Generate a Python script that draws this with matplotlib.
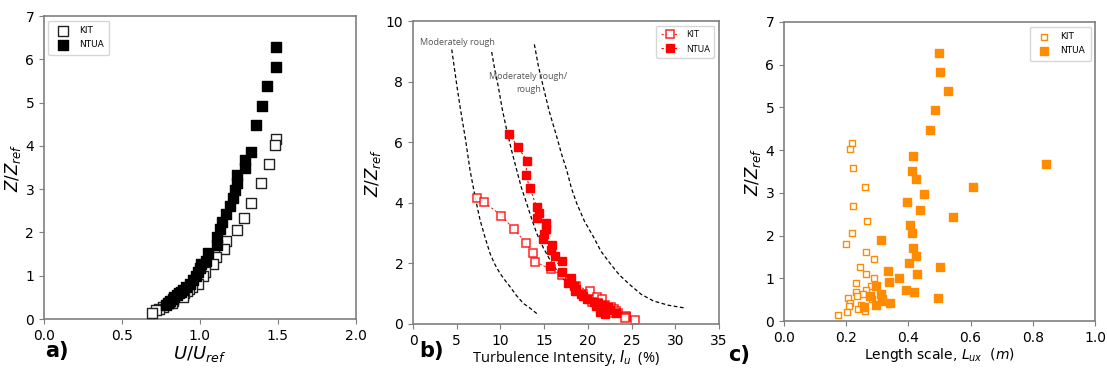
import matplotlib
matplotlib.use("Agg")
import matplotlib.pyplot as plt

# ---------------- data ----------------
z_kit = [4.17, 4.03, 3.58, 3.14, 2.69, 2.33, 2.06, 1.80, 1.62, 1.44, 1.26, 1.09, 1.00, 0.90,
         0.82, 0.73, 0.69, 0.64, 0.59, 0.55, 0.51, 0.42, 0.37, 0.36, 0.27, 0.23, 0.20, 0.14]
u_kit = [1.49, 1.48, 1.44, 1.39, 1.33, 1.28, 1.24, 1.17, 1.155, 1.10, 1.085, 1.035, 1.02, 0.96,
         0.99, 0.95, 0.93, 0.92, 0.90, 0.89, 0.89, 0.83, 0.82, 0.80, 0.765, 0.74, 0.72, 0.695]
iu_kit = [7.3, 8.1, 10.1, 11.5, 12.9, 13.7, 13.95, 15.8, 17.0, 18.0, 18.7, 20.2, 19.5, 21.0,
          21.6, 20.5, 21.2, 22.0, 21.8, 22.6, 23.0, 23.2, 22.5, 23.4, 24.4, 24.4, 24.3, 25.4]
lux_kit = [0.219, 0.212, 0.222, 0.262, 0.222, 0.267, 0.220, 0.198, 0.265, 0.289, 0.245, 0.264,
           0.288, 0.231, 0.279, 0.263, 0.231, 0.253, 0.234, 0.206, 0.284, 0.212, 0.249, 0.208,
           0.239, 0.262, 0.204, 0.173]

z_ntua = [6.28, 5.83, 5.38, 4.93, 4.48, 3.86, 3.68, 3.50, 3.32, 3.14, 2.97, 2.79, 2.61, 2.43,
          2.24, 2.07, 1.90, 1.71, 1.53, 1.35, 1.26, 1.17, 1.09, 1.00, 0.91, 0.81, 0.73, 0.68,
          0.63, 0.59, 0.55, 0.51, 0.46, 0.41, 0.37, 0.32]
u_ntua = [1.487, 1.487, 1.431, 1.40, 1.358, 1.325, 1.29, 1.29, 1.24, 1.235, 1.225, 1.21, 1.19,
          1.165, 1.14, 1.13, 1.11, 1.11, 1.05, 1.04, 1.005, 1.0, 0.99, 0.978, 0.956, 0.935,
          0.913, 0.89, 0.88, 0.864, 0.85, 0.836, 0.828, 0.81, 0.796, 0.785]
iu_ntua = [10.98, 12.0, 13.08, 12.89, 13.38, 14.14, 14.45, 14.18, 15.21, 15.21, 14.95, 14.9,
           15.9, 15.75, 16.2, 17.08, 15.7, 17.08, 18.03, 17.73, 18.4, 18.6, 18.5, 19.18, 19.5,
           19.9, 20.7, 21.2, 21.6, 20.97, 22.26, 21.8, 22.57, 21.4, 23.18, 22.0]
lux_ntua = [0.499, 0.500, 0.526, 0.484, 0.469, 0.416, 0.843, 0.411, 0.425, 0.607, 0.449, 0.394,
            0.438, 0.544, 0.405, 0.412, 0.312, 0.416, 0.423, 0.401, 0.501, 0.334, 0.429, 0.370,
            0.337, 0.295, 0.391, 0.419, 0.312, 0.275, 0.494, 0.315, 0.315, 0.342, 0.297, 0.258]

# reference turbulence-intensity curves (panel b)
ref1_iu = [4.43, 5.0, 5.38, 6.0, 6.52, 7.1, 7.67, 8.3, 8.81, 9.3, 9.95, 10.5, 11.1, 11.8, 12.62, 13.4, 14.22]
ref1_z = [9.06, 7.9, 7.17, 6.1, 5.08, 4.2, 3.43, 2.8, 2.33, 2.0, 1.67, 1.45, 1.23, 0.95, 0.68, 0.52, 0.33]
ref2_iu = [9.0, 9.35, 9.76, 10.2, 10.72, 11.3, 11.86, 12.4, 13.0, 13.6, 14.15, 14.9, 15.67, 16.6, 17.58, 18.3, 19.1, 19.8, 20.6, 21.4, 22.2]
ref2_z = [8.98, 8.4, 7.83, 7.1, 6.40, 5.7, 5.08, 4.5, 3.98, 3.45, 2.99, 2.52, 2.11, 1.70, 1.34, 1.10, 0.90, 0.72, 0.57, 0.43, 0.30]
ref3_iu = [13.88, 14.35, 14.9, 15.6, 16.44, 17.0, 17.58, 18.1, 18.73, 19.6, 20.63, 21.5, 22.54, 23.6, 24.83, 26.1, 27.5, 29.2, 31.24]
ref3_z = [9.23, 8.5, 7.83, 7.0, 6.18, 5.6, 5.08, 4.5, 3.98, 3.4, 2.88, 2.4, 2.0, 1.62, 1.29, 0.98, 0.76, 0.62, 0.52]

# ---------------- figure ----------------
fig = plt.figure(figsize=(11.07, 3.74), dpi=100)
ax_a = fig.add_axes([0.0397, 0.147, 0.2818, 0.810])
ax_b = fig.add_axes([0.3731, 0.1337, 0.2764, 0.810])
ax_c = fig.add_axes([0.7082, 0.1417, 0.2810, 0.7995])

spine_col = '#7f7f7f'
for ax in (ax_a, ax_b, ax_c):
    for s in ax.spines.values():
        s.set_color(spine_col)
        s.set_linewidth(1.2)
    ax.tick_params(labelsize=10, color=spine_col, length=3.5)

# panel a
ax_a.scatter(u_kit, z_kit, marker='s', s=55, facecolors='white', edgecolors='#222222',
             linewidths=1.0, label='KIT', zorder=3)
ax_a.scatter(u_ntua, z_ntua, marker='s', s=55, facecolors='black', edgecolors='black',
             linewidths=1.0, label='NTUA', zorder=4)
ax_a.set_xlim(0, 2)
ax_a.set_ylim(0, 7)
ax_a.set_xticks([0.0, 0.5, 1.0, 1.5, 2.0])
ax_a.set_xlabel('$U/U_{ref}$', fontsize=13, labelpad=1)
ax_a.set_ylabel('$Z/Z_{ref}$', fontsize=12, labelpad=2)
ax_a.legend(loc='upper left', fontsize=6.5, handletextpad=0.8, borderpad=0.6,
            labelspacing=0.6, frameon=True, edgecolor='#cccccc')

# panel b
for rx, rz in ((ref1_iu, ref1_z), (ref2_iu, ref2_z), (ref3_iu, ref3_z)):
    ax_b.plot(rx, rz, color='black', ls='--', lw=0.9, dashes=(3, 2))
ax_b.plot(iu_kit, z_kit, color='red', ls='--', lw=0.8, dashes=(2, 2), marker='s', ms=6,
          mfc='white', mec='red', mew=1.1, label='KIT', alpha=0.85)
ax_b.plot(iu_ntua, z_ntua, color='red', ls='--', lw=0.8, dashes=(2, 2), marker='s', ms=6,
          mfc='red', mec='red', mew=1.0, label='NTUA')
ax_b.set_xlim(0, 35)
ax_b.set_ylim(0, 10)
ax_b.set_xticks(range(0, 36, 5))
ax_b.set_yticks(range(0, 11, 2))
ax_b.set_xlabel('Turbulence Intensity, $I_u$  (%)', fontsize=10.5, family='Open Sans', labelpad=0)
ax_b.set_ylabel('$Z/Z_{ref}$', fontsize=12, labelpad=2)
ax_b.text(0.8, 9.3, 'Moderately rough', fontsize=6.5, family='Open Sans', color='#555555',
          ha='left', va='center')
ax_b.text(13.2, 7.95, 'Moderately rough/\nrough', fontsize=6.5, family='Open Sans',
          color='#555555', ha='center', va='center', linespacing=1.6)
ax_b.legend(loc='upper right', handlelength=2.0, borderpad=0.5,
            labelspacing=0.6, frameon=True, edgecolor='#cccccc',
            prop={'family': 'Open Sans', 'size': 6.5})

# panel c
orange = '#ff8c00'
ax_c.scatter(lux_kit, z_kit, marker='s', s=22, facecolors='white', edgecolors=orange,
             linewidths=1.0, label='KIT', zorder=3)
ax_c.scatter(lux_ntua, z_ntua, marker='s', s=30, facecolors=orange, edgecolors=orange,
             linewidths=1.0, label='NTUA', zorder=4)
ax_c.set_xlim(0, 1)
ax_c.set_ylim(0, 7)
ax_c.set_xlabel('Length scale, $L_{ux}$  $(m)$', fontsize=10, labelpad=1)
ax_c.set_ylabel('$Z/Z_{ref}$', fontsize=12, labelpad=2)
ax_c.legend(loc='upper right', fontsize=6.5, handletextpad=0.8, borderpad=0.6,
            labelspacing=0.6, frameon=True, edgecolor='#cccccc')

# panel letters
fig.text(0.041, 0.045, 'a)', fontsize=15, fontweight='bold')
fig.text(0.379, 0.045, 'b)', fontsize=15, fontweight='bold')
fig.text(0.658, 0.035, 'c)', fontsize=15, fontweight='bold')

fig.savefig('out.png', dpi=100)
